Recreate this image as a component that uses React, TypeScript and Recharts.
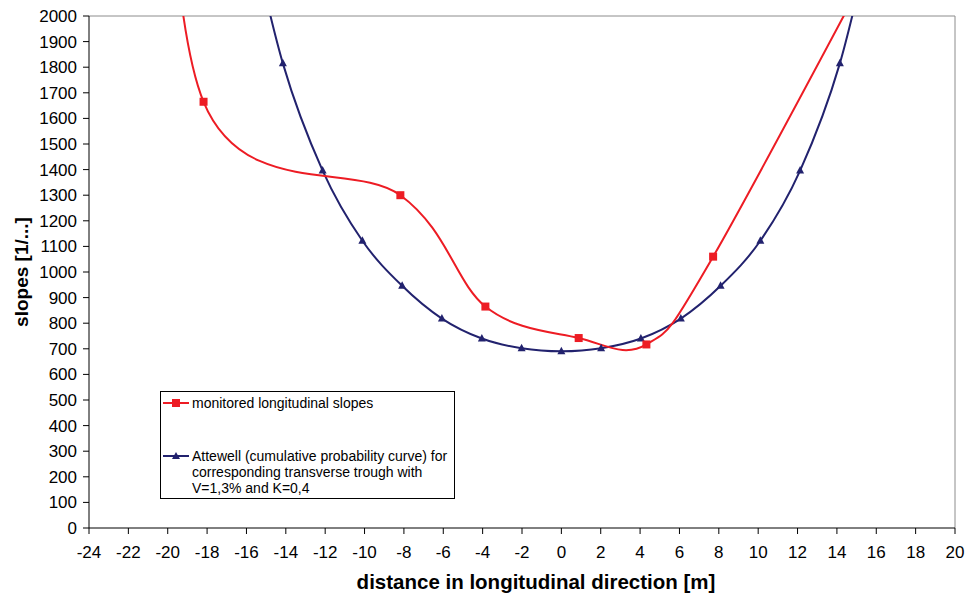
import { LineChart, Line, XAxis, YAxis, ReferenceLine, Legend, Label } from "recharts"

// monitored longitudinal slopes (outer points lie above the 2000 cut-off)
const monitoredDistance = [-20.5, -18.18, -8.18, -3.86, 0.88, 4.32, 7.71, 18.5]
const monitoredSlope = [3600, 1665, 1300, 865, 742, 717, 1060, 2600]

// Attewell curve for the corresponding transverse trough
const attewellDistance = [-16.18, -14.15, -12.13, -10.11, -8.09, -6.07, -4.04, -2.02, 0, 2.02, 4.04, 6.07, 8.09, 10.11, 12.13, 14.15, 16.18]
const attewellSlope = [2460, 1815, 1396, 1122, 946, 818, 740, 702, 690, 702, 740, 818, 946, 1122, 1396, 1815, 2460]

const xTicks = [-24, -22, -20, -18, -16, -14, -12, -10, -8, -6, -4, -2, 0, 2, 4, 6, 8, 10, 12, 14, 16, 18, 20]
const yTicks = [0, 100, 200, 300, 400, 500, 600, 700, 800, 900, 1000, 1100, 1200, 1300, 1400, 1500, 1600, 1700, 1800, 1900, 2000]

const FONT = '"Liberation Sans", Arial, Helvetica, sans-serif'
const RED = "#ED1C24"
const NAVY = "#22226E"

const monitored = monitoredDistance.map((x, i) => ({ x, slope: monitoredSlope[i] }))
const attewell = attewellDistance.map((x, i) => ({ x, slope: attewellSlope[i] }))

// smoothed line like the spreadsheet one (cubic bezier, 1/6 tangents)
function smoothCurve(context: any) {
  let pts: number[][] = []
  return {
    areaStart() {},
    areaEnd() {},
    lineStart() {
      pts = []
    },
    point(x: number, y: number) {
      pts.push([+x, +y])
    },
    lineEnd() {
      if (!pts.length) return
      context.moveTo(pts[0][0], pts[0][1])
      for (let i = 0; i < pts.length - 1; i++) {
        const p0 = pts[i - 1] || pts[i]
        const p1 = pts[i]
        const p2 = pts[i + 1]
        const p3 = pts[i + 2] || p2
        context.bezierCurveTo(
          p1[0] + (p2[0] - p0[0]) / 6,
          p1[1] + (p2[1] - p0[1]) / 6,
          p2[0] - (p3[0] - p1[0]) / 6,
          p2[1] - (p3[1] - p1[1]) / 6,
          p2[0],
          p2[1]
        )
      }
    },
  }
}

const SquareDot = (props: any) => {
  const { cx, cy, index, payload } = props
  if (payload.slope > 2000) return <g key={`sq-${index}`} />
  return <rect key={`sq-${index}`} x={cx - 4} y={cy - 4} width={8} height={8} fill={RED} />
}

const TriangleDot = (props: any) => {
  const { cx, cy, index, payload } = props
  if (payload.slope > 2000) return <g key={`tr-${index}`} />
  return <polygon key={`tr-${index}`} points={`${cx},${cy - 4.5} ${cx - 4},${cy + 3} ${cx + 4},${cy + 3}`} fill={NAVY} />
}

function LegendIcon({ color, shape }: { color: string; shape: "square" | "triangle" }) {
  return (
    <svg width={26} height={10} style={{ flex: "none", marginRight: 3, marginTop: 3 }}>
      <line x1={0} y1={5} x2={26} y2={5} stroke={color} strokeWidth={2} />
      {shape === "square" ? (
        <rect x={9} y={1} width={8} height={8} fill={color} />
      ) : (
        <polygon points="13,1 9,8 17,8" fill={color} />
      )}
    </svg>
  )
}

function ChartLegend() {
  return (
    <div
      style={{
        width: 295,
        height: 108,
        boxSizing: "border-box",
        border: "1px solid #000",
        background: "#fff",
        fontFamily: FONT,
        fontSize: 14,
        lineHeight: "16px",
        color: "#000",
        padding: "3px 0 0 2px",
      }}
    >
      <div style={{ display: "flex", alignItems: "flex-start" }}>
        <LegendIcon color={RED} shape="square" />
        <span>monitored longitudinal slopes</span>
      </div>
      <div style={{ display: "flex", alignItems: "flex-start", marginTop: 37 }}>
        <LegendIcon color={NAVY} shape="triangle" />
        <span>
          Attewell (cumulative probability curve) for
          <br />
          corresponding transverse trough with
          <br />
          V=1,3% and K=0,4
        </span>
      </div>
    </div>
  )
}

export default function App() {
  return (
    <div style={{ position: "absolute", left: 0, top: 0, background: "#fff" }}>
      <LineChart width={968} height={600} margin={{ top: 16, right: 13, bottom: 0, left: 0 }}>
        <XAxis
          type="number"
          dataKey="x"
          domain={[-24, 20]}
          ticks={xTicks}
          interval={0}
          allowDataOverflow
          height={72}
          tickSize={6}
          tickMargin={12}
          axisLine={{ stroke: "#000" }}
          tickLine={{ stroke: "#000" }}
          tick={{ fill: "#000", fontSize: 17, fontFamily: FONT }}
        >
          <Label
            value="distance in longitudinal direction [m]"
            position="insideBottom"
            offset={11}
            dx={14}
            style={{ fill: "#000", fontSize: 20.5, fontWeight: "bold", fontFamily: FONT }}
          />
        </XAxis>
        <YAxis
          type="number"
          domain={[0, 2000]}
          ticks={yTicks}
          interval={0}
          allowDataOverflow
          width={89}
          tickSize={6}
          tickMargin={6}
          axisLine={{ stroke: "#000" }}
          tickLine={{ stroke: "#000" }}
          tick={{ fill: "#000", fontSize: 17, fontFamily: FONT }}
        >
          <Label
            value="slopes [1/...]"
            angle={-90}
            position="insideLeft"
            offset={21}
            style={{ fill: "#000", fontSize: 19, fontWeight: "bold", fontFamily: FONT, textAnchor: "middle" }}
          />
        </YAxis>
        <ReferenceLine y={2000} stroke="#8c8c8c" strokeWidth={1} />
        <ReferenceLine x={20} stroke="#8c8c8c" strokeWidth={1} />
        <Line
          data={attewell}
          dataKey="slope"
          name="Attewell"
          type={smoothCurve as any}
          stroke={NAVY}
          strokeWidth={2}
          dot={TriangleDot}
          activeDot={false}
          isAnimationActive={false}
        />
        <Line
          data={monitored}
          dataKey="slope"
          name="monitored longitudinal slopes"
          type={smoothCurve as any}
          stroke={RED}
          strokeWidth={2}
          dot={SquareDot}
          activeDot={false}
          isAnimationActive={false}
        />
        <Legend
          layout="vertical"
          align="center"
          verticalAlign="middle"
          content={() => <ChartLegend />}
          wrapperStyle={{ left: 160, top: 391, width: 295, height: 108 }}
        />
      </LineChart>
    </div>
  )
}
